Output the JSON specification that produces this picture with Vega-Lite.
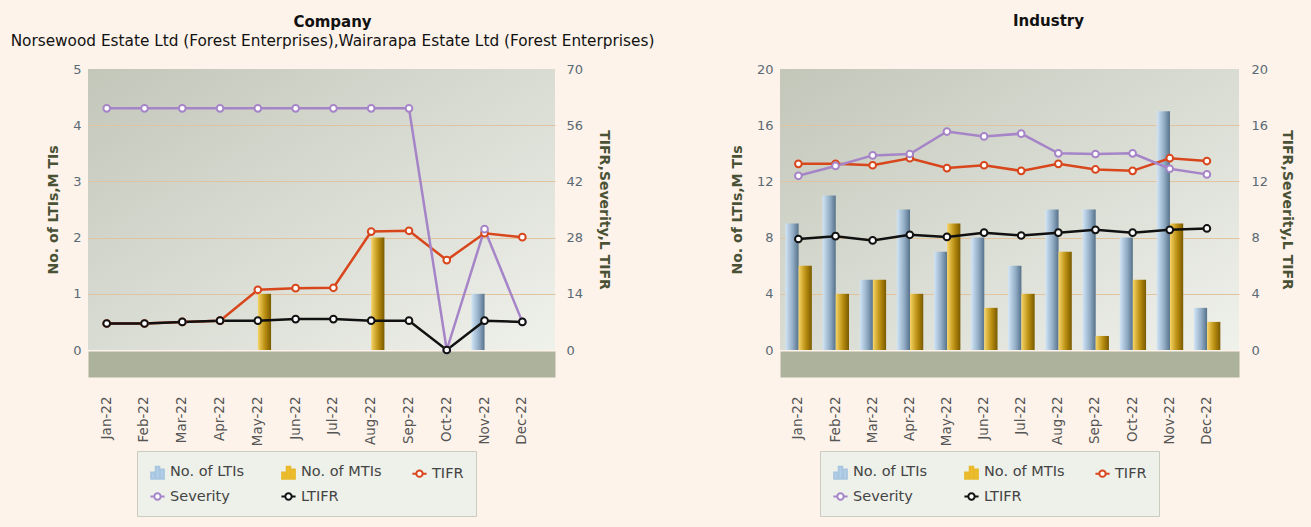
{
  "$schema": "https://vega.github.io/schema/vega-lite/v6.json",
  "background": "#fdf3ea",
  "padding": {"left": 10, "top": 14, "right": 17, "bottom": 10},
  "spacing": 75,
  "config": {
    "font": "DejaVu Sans",
    "view": {"stroke": null},
    "axis": {"labelFont": "DejaVu Sans", "titleFont": "DejaVu Sans", "labelColor": "#5b6a74", "titleColor": "#4a5236", "labelFontSize": 13, "titleFontSize": 14, "titleFontWeight": "bold", "ticks": false, "domain": false},
    "title": {"font": "DejaVu Sans", "fontSize": 15, "fontWeight": "bold", "color": "#111111", "subtitleFont": "DejaVu Sans", "subtitleFontSize": 15.3, "subtitleColor": "#111111", "anchor": "middle"},
    "legend": {"orient": "none", "direction": "horizontal", "columns": 3, "gridAlign": "all", "labelFontSize": 14.5, "labelColor": "#444444", "labelFont": "DejaVu Sans", "symbolSize": 200, "fillColor": "#eef0ea", "strokeColor": "#c9ccbf", "padding": 12, "columnPadding": 26, "rowPadding": 5}
  },
  "datasets": {
    "company": [
      {"month": "Jan-22", "lti": 0, "mti": 0, "tifr": 6.6, "severity": 60.2, "ltifr": 6.6},
      {"month": "Feb-22", "lti": 0, "mti": 0, "tifr": 6.6, "severity": 60.2, "ltifr": 6.6},
      {"month": "Mar-22", "lti": 0, "mti": 0, "tifr": 7.0, "severity": 60.2, "ltifr": 7.0},
      {"month": "Apr-22", "lti": 0, "mti": 0, "tifr": 7.3, "severity": 60.2, "ltifr": 7.3},
      {"month": "May-22", "lti": 0, "mti": 1, "tifr": 15.0, "severity": 60.2, "ltifr": 7.3},
      {"month": "Jun-22", "lti": 0, "mti": 0, "tifr": 15.4, "severity": 60.2, "ltifr": 7.7},
      {"month": "Jul-22", "lti": 0, "mti": 0, "tifr": 15.5, "severity": 60.2, "ltifr": 7.7},
      {"month": "Aug-22", "lti": 0, "mti": 2, "tifr": 29.5, "severity": 60.2, "ltifr": 7.3},
      {"month": "Sep-22", "lti": 0, "mti": 0, "tifr": 29.7, "severity": 60.2, "ltifr": 7.3},
      {"month": "Oct-22", "lti": 0, "mti": 0, "tifr": 22.4, "severity": 0, "ltifr": 0},
      {"month": "Nov-22", "lti": 1, "mti": 0, "tifr": 29.1, "severity": 30.1, "ltifr": 7.3},
      {"month": "Dec-22", "lti": 0, "mti": 0, "tifr": 28.1, "severity": 7.0, "ltifr": 7.0}
    ],
    "industry": [
      {"month": "Jan-22", "lti": 9, "mti": 6, "tifr": 13.25, "severity": 12.4, "ltifr": 7.9},
      {"month": "Feb-22", "lti": 11, "mti": 4, "tifr": 13.25, "severity": 13.1, "ltifr": 8.1},
      {"month": "Mar-22", "lti": 5, "mti": 5, "tifr": 13.15, "severity": 13.85, "ltifr": 7.8},
      {"month": "Apr-22", "lti": 10, "mti": 4, "tifr": 13.65, "severity": 13.95, "ltifr": 8.2},
      {"month": "May-22", "lti": 7, "mti": 9, "tifr": 12.95, "severity": 15.55, "ltifr": 8.05},
      {"month": "Jun-22", "lti": 8, "mti": 3, "tifr": 13.15, "severity": 15.2, "ltifr": 8.35},
      {"month": "Jul-22", "lti": 6, "mti": 4, "tifr": 12.75, "severity": 15.4, "ltifr": 8.15},
      {"month": "Aug-22", "lti": 10, "mti": 7, "tifr": 13.25, "severity": 14.0, "ltifr": 8.35},
      {"month": "Sep-22", "lti": 10, "mti": 1, "tifr": 12.85, "severity": 13.95, "ltifr": 8.55},
      {"month": "Oct-22", "lti": 8, "mti": 5, "tifr": 12.75, "severity": 14.0, "ltifr": 8.35},
      {"month": "Nov-22", "lti": 17, "mti": 9, "tifr": 13.65, "severity": 12.9, "ltifr": 8.55},
      {"month": "Dec-22", "lti": 3, "mti": 2, "tifr": 13.45, "severity": 12.5, "ltifr": 8.65}
    ]
  },
  "hconcat": [
    {
      "title": {"text": "Company", "subtitle": "Norsewood Estate Ltd (Forest Enterprises),Wairarapa Estate Ltd (Forest Enterprises)", "offset": 14, "subtitlePadding": 4, "dx": 11},
      "data": {"name": "company"},
      "width": 467,
      "height": 281,
      "view": {"stroke": null, "fill": {"gradient": "linear", "x1": 0, "y1": 0, "x2": 1, "y2": 1, "stops": [{"offset": 0, "color": "#c3c7ba"}, {"offset": 1, "color": "#eff1eb"}]}},
      "encoding": {
        "x": {"field": "month", "type": "ordinal", "sort": null, "title": null,
          "scale": {"paddingInner": 0.3, "paddingOuter": 0.33, "align": 0.22},
          "axis": {"labelAngle": -90, "labelFontSize": 13.5, "labelColor": "#555555", "domain": true, "domainWidth": 26, "domainColor": "#adb29c", "domainCap": "butt", "offset": 14, "labelPadding": 32, "ticks": false}}
      },
      "layer": [
        {
          "transform": [{"fold": ["lti", "mti"], "as": ["series", "value"]}],
          "encoding": {
            "xOffset": {"field": "series", "type": "nominal", "scale": {"domain": ["lti", "mti"]}},
            "y": {"field": "value", "type": "quantitative", "scale": {"domain": [0, 5]},
              "axis": {"orient": "left", "title": "No. of LTIs,M TIs", "values": [0, 1, 2, 3, 4, 5], "grid": true,
                "gridColor": {"condition": {"test": "datum.value == 0 || datum.value == 5", "value": "transparent"}, "value": "#e3c39e"},
                "labelPadding": 7, "titlePadding": 12}}
          },
          "layer": [
            {"transform": [{"filter": "datum.series == 'lti'"}],
             "mark": {"type": "bar", "fill": {"gradient": "linear", "x1": 0, "y1": 0, "x2": 1, "y2": 0, "stops": [{"offset": 0, "color": "#d2e5f6"}, {"offset": 0.55, "color": "#93aec6"}, {"offset": 1, "color": "#56728a"}]}}},
            {"transform": [{"filter": "datum.series == 'mti'"}],
             "mark": {"type": "bar", "fill": {"gradient": "linear", "x1": 0, "y1": 0, "x2": 1, "y2": 0, "stops": [{"offset": 0, "color": "#f6d466"}, {"offset": 0.55, "color": "#b88d10"}, {"offset": 1, "color": "#7a5a00"}]}}}
          ]
        },
        {
          "transform": [{"fold": ["tifr", "severity", "ltifr"], "as": ["series", "value"]}],
          "encoding": {
            "y": {"field": "value", "type": "quantitative", "scale": {"domain": [0, 70]},
              "axis": {"orient": "right", "title": "TIFR,Severity,L TIFR", "values": [0, 14, 28, 42, 56, 70], "grid": false, "labelPadding": 11, "titlePadding": 14}},
            "color": {"field": "series", "type": "nominal",
              "scale": {"domain": ["lti", "mti", "tifr", "severity", "ltifr"], "range": ["#a9c6e0", "#e8b92a", "#d8461c", "#a585c8", "#111111"]},
              "legend": {"title": null, "legendX": 49, "legendY": 382,
                "labelExpr": "{'lti':'No. of LTIs','mti':'No. of MTIs','tifr':'TIFR','severity':'Severity','ltifr':'LTIFR'}[datum.label]",
                "encode": {"symbols": {"update": {
                  "shape": {"signal": "datum.value=='lti'||datum.value=='mti' ? 'M-0.9,1V0.1H-0.4V1ZM-0.25,1V-0.7H0.25V1ZM0.4,1V-0.3H0.9V1Z' : 'M-1,0H-0.45A0.45,0.45 0 1,0 0.45,0A0.45,0.45 0 1,0 -0.45,0M0.45,0H1'"},
                  "fill": {"signal": "datum.value=='lti' ? '#b5d0ea' : datum.value=='mti' ? '#efbe2c' : '#ffffff'"},
                  "stroke": {"signal": "datum.value=='lti'||datum.value=='mti' ? 'transparent' : datum.value=='tifr' ? '#d8461c' : datum.value=='severity' ? '#a585c8' : '#111111'"},
                  "strokeWidth": {"value": 2},
                  "opacity": {"value": 1},
                  "fillOpacity": {"value": 1}}}}}}
          },
          "layer": [
            {"mark": {"type": "line", "strokeWidth": 2.5}},
            {"mark": {"type": "point", "filled": false, "fill": "white", "fillOpacity": 1, "size": 45, "strokeWidth": 2, "opacity": 1}}
          ]
        }
      ],
      "resolve": {"scale": {"y": "independent"}}
    },
    {
      "title": {"text": "Industry", "offset": 34, "dx": 39},
      "data": {"name": "industry"},
      "width": 459,
      "height": 281,
      "view": {"stroke": null, "fill": {"gradient": "linear", "x1": 0, "y1": 0, "x2": 1, "y2": 1, "stops": [{"offset": 0, "color": "#c3c7ba"}, {"offset": 1, "color": "#eff1eb"}]}},
      "encoding": {
        "x": {"field": "month", "type": "ordinal", "sort": null, "title": null,
          "scale": {"paddingInner": 0.3, "paddingOuter": 0.33, "align": 0.22},
          "axis": {"labelAngle": -90, "labelFontSize": 13.5, "labelColor": "#555555", "domain": true, "domainWidth": 26, "domainColor": "#adb29c", "domainCap": "butt", "offset": 14, "labelPadding": 32, "ticks": false}}
      },
      "layer": [
        {
          "transform": [{"fold": ["lti", "mti"], "as": ["series", "value"]}],
          "encoding": {
            "xOffset": {"field": "series", "type": "nominal", "scale": {"domain": ["lti", "mti"]}},
            "y": {"field": "value", "type": "quantitative", "scale": {"domain": [0, 20]},
              "axis": {"orient": "left", "title": "No. of LTIs,M TIs", "values": [0, 4, 8, 12, 16, 20], "grid": true,
                "gridColor": {"condition": {"test": "datum.value == 0 || datum.value == 20", "value": "transparent"}, "value": "#e3c39e"},
                "labelPadding": 7, "titlePadding": 12}}
          },
          "layer": [
            {"transform": [{"filter": "datum.series == 'lti'"}],
             "mark": {"type": "bar", "fill": {"gradient": "linear", "x1": 0, "y1": 0, "x2": 1, "y2": 0, "stops": [{"offset": 0, "color": "#d2e5f6"}, {"offset": 0.55, "color": "#93aec6"}, {"offset": 1, "color": "#56728a"}]}}},
            {"transform": [{"filter": "datum.series == 'mti'"}],
             "mark": {"type": "bar", "fill": {"gradient": "linear", "x1": 0, "y1": 0, "x2": 1, "y2": 0, "stops": [{"offset": 0, "color": "#f6d466"}, {"offset": 0.55, "color": "#b88d10"}, {"offset": 1, "color": "#7a5a00"}]}}}
          ]
        },
        {
          "transform": [{"fold": ["tifr", "severity", "ltifr"], "as": ["series", "value"]}],
          "encoding": {
            "y": {"field": "value", "type": "quantitative", "scale": {"domain": [0, 20]},
              "axis": {"orient": "right", "title": "TIFR,Severity,L TIFR", "values": [0, 4, 8, 12, 16, 20], "grid": false, "labelPadding": 12, "titlePadding": 12}},
            "color": {"field": "series", "type": "nominal",
              "scale": {"domain": ["lti", "mti", "tifr", "severity", "ltifr"], "range": ["#a9c6e0", "#e8b92a", "#d8461c", "#a585c8", "#111111"]},
              "legend": {"title": null, "legendX": 40, "legendY": 382,
                "labelExpr": "{'lti':'No. of LTIs','mti':'No. of MTIs','tifr':'TIFR','severity':'Severity','ltifr':'LTIFR'}[datum.label]",
                "encode": {"symbols": {"update": {
                  "shape": {"signal": "datum.value=='lti'||datum.value=='mti' ? 'M-0.9,1V0.1H-0.4V1ZM-0.25,1V-0.7H0.25V1ZM0.4,1V-0.3H0.9V1Z' : 'M-1,0H-0.45A0.45,0.45 0 1,0 0.45,0A0.45,0.45 0 1,0 -0.45,0M0.45,0H1'"},
                  "fill": {"signal": "datum.value=='lti' ? '#b5d0ea' : datum.value=='mti' ? '#efbe2c' : '#ffffff'"},
                  "stroke": {"signal": "datum.value=='lti'||datum.value=='mti' ? 'transparent' : datum.value=='tifr' ? '#d8461c' : datum.value=='severity' ? '#a585c8' : '#111111'"},
                  "strokeWidth": {"value": 2},
                  "opacity": {"value": 1},
                  "fillOpacity": {"value": 1}}}}}}
          },
          "layer": [
            {"mark": {"type": "line", "strokeWidth": 2.5}},
            {"mark": {"type": "point", "filled": false, "fill": "white", "fillOpacity": 1, "size": 45, "strokeWidth": 2, "opacity": 1}}
          ]
        }
      ],
      "resolve": {"scale": {"y": "independent"}}
    }
  ],
  "resolve": {"scale": {"color": "independent"}, "legend": {"color": "independent"}}
}
